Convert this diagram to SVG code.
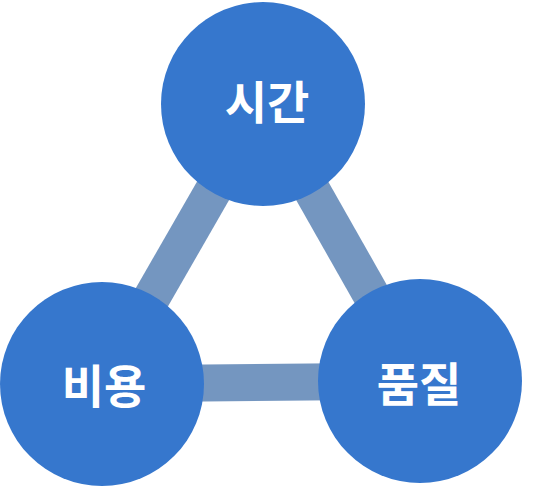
<svg xmlns="http://www.w3.org/2000/svg" width="535" height="488" viewBox="0 0 535 488">
<style>
.bar{stroke:#7496C0;stroke-width:37;fill:none}
.node{fill:#3677CD}
.lbl{font-family:"Noto Sans CJK KR","Noto Sans",sans-serif;font-size:46px;font-weight:bold;fill:#ffffff;text-anchor:middle;dominant-baseline:central}
</style>
<rect width="535" height="488" fill="#ffffff"/>
<g id="connectors">
<line class="bar" x1="263" y1="104" x2="102" y2="384"/>
<line class="bar" x1="263" y1="104" x2="420" y2="381"/>
<line class="bar" x1="102" y1="384" x2="420" y2="381"/>
</g>
<g id="node-time">
<circle class="node" cx="263" cy="104" r="102"/>
<text class="lbl" x="267" y="99">시간</text>
</g>
<g id="node-cost">
<circle class="node" cx="102" cy="384" r="102"/>
<text class="lbl" x="104" y="383">비용</text>
</g>
<g id="node-quality">
<circle class="node" cx="420" cy="381" r="102"/>
<text class="lbl" x="419" y="381">품질</text>
</g>
</svg>
